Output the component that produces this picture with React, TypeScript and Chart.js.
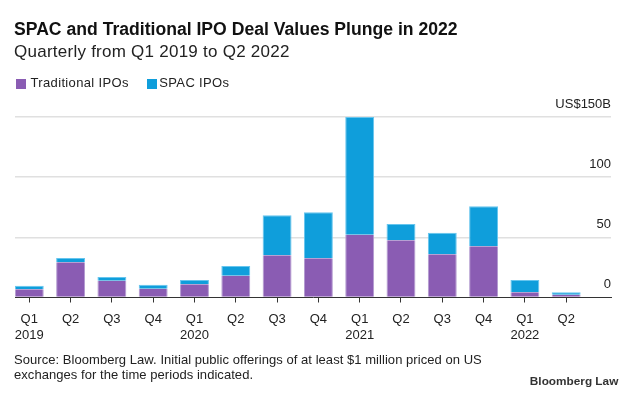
import React, { useEffect, useRef } from 'react';
import { Chart, registerables } from 'chart.js';

Chart.register(...registerables);

const quarters = ['Q1', 'Q2', 'Q3', 'Q4', 'Q1', 'Q2', 'Q3', 'Q4', 'Q1', 'Q2', 'Q3', 'Q4', 'Q1', 'Q2'];
const years = ['2019', '', '', '', '2020', '', '', '', '2021', '', '', '', '2022', ''];
const traditional = [6.8, 29.3, 14.0, 7.3, 11.0, 18.1, 35.1, 32.6, 52.2, 47.5, 35.9, 42.6, 4.3, 2.3];
const spac = [3.0, 3.5, 3.0, 3.3, 3.5, 8.1, 33.2, 38.2, 97.8, 13.6, 18.0, 33.2, 10.2, 2.0];
const yTicks = [0, 50, 100, 150];

const FONT = "'Liberation Sans', Arial, Helvetica, sans-serif";
const PURPLE = '#8a5cb3';
const PURPLE_EDGE = '#b39ad0';
const BLUE = '#0f9edb';
const BLUE_EDGE = '#66c5ee';

export default function App() {
  const ref = useRef<HTMLCanvasElement>(null);

  useEffect(() => {
    const chart = new Chart(ref.current as HTMLCanvasElement, {
      type: 'bar',
      data: {
        datasets: [
          {
            label: 'Traditional IPOs',
            data: traditional.map((v, i) => ({ x: i, y: v })),
            backgroundColor: PURPLE,
            borderColor: PURPLE_EDGE,
            borderWidth: { top: 0, left: 1, right: 1, bottom: 0 },
            borderSkipped: false,
            categoryPercentage: 1,
            barPercentage: 0.7,
          },
          {
            label: 'SPAC IPOs',
            data: spac.map((v, i) => ({ x: i, y: v })),
            backgroundColor: BLUE,
            borderColor: BLUE_EDGE,
            borderWidth: { top: 1, left: 1, right: 1, bottom: 0 },
            borderSkipped: false,
            categoryPercentage: 1,
            barPercentage: 0.7,
          },
        ],
      } as any,
      options: {
        responsive: false,
        animation: false,
        layout: { padding: { left: 15, right: 22, top: 117, bottom: 42.7 } },
        plugins: {
          legend: { display: false },
          title: { display: false },
          tooltip: { enabled: false },
        },
        scales: {
          x: {
            type: 'linear',
            stacked: true,
            offset: false,
            min: -0.346,
            max: 14.085,
            afterBuildTicks: (s: any) => {
              s.ticks = quarters.map((_, i) => ({ value: i }));
            },
            grid: {
              display: true,
              drawOnChartArea: false,
              drawTicks: true,
              tickLength: 5,
              color: '#333',
              offset: false,
            },
            border: { display: true, color: '#333', width: 1 },
            ticks: {
              padding: 8,
              color: '#222',
              autoSkip: false,
              maxRotation: 0,
              font: { family: FONT, size: 13, lineHeight: 1.3 },
              callback: (v: any) => {
                const i = Math.round(Number(v));
                return years[i] ? [quarters[i], years[i]] : quarters[i];
              },
            },
          },
          y: {
            position: 'right',
            stacked: true,
            min: 0,
            max: 150,
            afterBuildTicks: (s: any) => {
              s.ticks = yTicks.map((v) => ({ value: v }));
            },
            grid: {
              color: (ctx: any) => (ctx.tick && ctx.tick.value === 0 ? 'rgba(0,0,0,0)' : '#e0e0e0'),
              lineWidth: 1.5,
              drawTicks: false,
            },
            border: { display: false },
            ticks: {
              mirror: true,
              padding: 0,
              labelOffset: -13,
              color: '#222',
              font: { family: FONT, size: 13 },
              callback: (v: any) => (Number(v) === 150 ? 'US$150B' : String(v)),
            },
          },
        } as any,
      },
    });
    return () => chart.destroy();
  }, []);

  const abs = (s: React.CSSProperties): React.CSSProperties => ({ position: 'absolute', whiteSpace: 'nowrap', ...s });

  return (
    <div style={{ position: 'absolute', left: 0, top: 0, width: 633, height: 395, background: '#fff', fontFamily: FONT, overflow: 'hidden' }}>
      <canvas ref={ref} width={633} height={395} style={{ position: 'absolute', left: 0, top: 0, width: 633, height: 395 }} />
      <div style={abs({ left: 14, top: 20.8, fontSize: 17.6, lineHeight: '17.6px', fontWeight: 700, color: '#111' })}>
        SPAC and Traditional IPO Deal Values Plunge in 2022
      </div>
      <div style={abs({ left: 14, top: 43.3, fontSize: 17, lineHeight: '17px', letterSpacing: '0.25px', color: '#222' })}>
        Quarterly from Q1 2019 to Q2 2022
      </div>
      <div style={abs({ left: 15.5, top: 78.5, width: 10, height: 10, background: PURPLE })} />
      <div style={abs({ left: 30.5, top: 75.7, fontSize: 13, lineHeight: '13px', letterSpacing: '0.35px', color: '#222' })}>
        Traditional IPOs
      </div>
      <div style={abs({ left: 146.5, top: 78.5, width: 10, height: 10, background: BLUE })} />
      <div style={abs({ left: 159.3, top: 75.7, fontSize: 13, lineHeight: '13px', letterSpacing: '0.35px', color: '#222' })}>
        SPAC IPOs
      </div>
      <div style={abs({ left: 14, top: 352, fontSize: 13, lineHeight: '15px', letterSpacing: '0.05px', color: '#222' })}>
        Source: Bloomberg Law. Initial public offerings of at least $1 million priced on US
        <br />
        exchanges for the time periods indicated.
      </div>
      <div style={abs({ right: 14.7, top: 375.7, fontSize: 11.8, lineHeight: '11.8px', fontWeight: 700, color: '#333' })}>
        Bloomberg Law
      </div>
    </div>
  );
}
